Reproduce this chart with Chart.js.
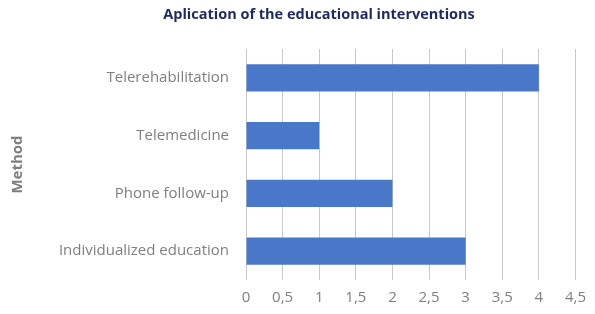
<!DOCTYPE html>
<html><head><meta charset="utf-8">
<script src="https://cdn.jsdelivr.net/npm/chart.js@4"></script>
<style>html,body{margin:0;padding:0;background:#fff}#wrap{width:595px;height:314px}</style>
</head><body><div id="wrap"><canvas id="c" width="595" height="314"></canvas></div>
<script>
const categories = ['Telerehabilitation', 'Telemedicine', 'Phone follow-up', 'Individualized education'];
const values = [4, 1, 2, 3];
const tickLabels = ['0', '0,5', '1', '1,5', '2', '2,5', '3', '3,5', '4', '4,5'];
const chartTitle = 'Aplication of the educational interventions';
const axisTitle = 'Method';

const FONT = "'Open Sans', sans-serif";
const titlePlugin = {
  id: 'topTitle',
  afterDraw(chart) {
    const ctx = chart.ctx;
    ctx.save();
    ctx.font = "bold 14.5px " + FONT;
    ctx.fillStyle = '#1f2a5e';
    ctx.textAlign = 'center';
    ctx.textBaseline = 'middle';
    ctx.fillText(chartTitle, 319, 15);
    ctx.restore();
  }
};
new Chart(document.getElementById('c'), {
  type: 'bar',
  data: { labels: categories, datasets: [{ data: values, backgroundColor: '#4a78c9', categoryPercentage: 1, barPercentage: 0.47 }] },
  options: {
    indexAxis: 'y', responsive: false, animation: false,
    layout: { padding: { left: 0, right: 18, top: 49, bottom: 0 } },
    plugins: { legend: { display: false }, tooltip: { enabled: false }, title: { display: false } },
    scales: {
      x: {
        min: 0, max: 4.5,
        ticks: { stepSize: 0.5, color: '#7f7f7f', padding: 9, font: { family: FONT, size: 15 }, callback: (v, i) => tickLabels[i] },
        grid: { color: '#c8c8c8', drawTicks: false },
        border: { display: false },
        afterFit: s => { s.height = 34; }
      },
      y: {
        ticks: { color: '#7f7f7f', padding: 17, font: { family: FONT, size: 15 } },
        grid: { display: false, drawTicks: false },
        border: { display: false },
        title: { display: true, text: axisTitle, color: '#7f7f7f', font: { family: FONT, size: 15, weight: 'bold' }, padding: { top: 9, bottom: 0 } },
        afterFit: s => { s.width = 246; }
      }
    }
  },
  plugins: [titlePlugin]
});
</script></body></html>
